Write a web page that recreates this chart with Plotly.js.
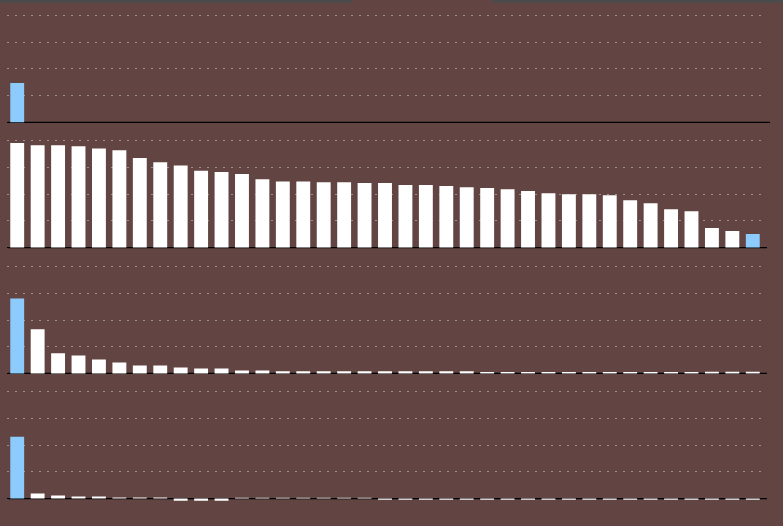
<!DOCTYPE html>
<html>
<head>
<meta charset="utf-8">
<script src="https://cdn.plot.ly/plotly-3.0.1.min.js"></script>
<style>html,body{margin:0;padding:0;background:#624442;}#chart{width:783px;height:526px;}</style>
</head>
<body>
<div id="chart"></div>
<script>
const categories = ["1","2","3","4","5","6","7","8","9","10","11","12","13","14","15","16","17","18","19","20","21","22","23","24","25","26","27","28","29","30","31","32","33","34","35","36","37"];
const panel1 = [36.8,0,0,0,0,0,0,0,0,0,0,0,0,0,0,0,0,0,0,0,0,0,0,0,0,0,0,0,0,0,0,0,0,0,0,0,0];
const panel2 = [98,96,96,95,93,91.4,84,80,77,72,71,69,64,62,62,61.4,61.4,60.5,60.5,58.6,58.6,57.7,56.7,55.8,54.8,53,51,50,50,49.2,44.5,41.7,36,34.2,18.3,15.5,12.7];
const panel3 = [70.3,41.3,18.8,16.9,13.1,10.3,7.5,7.5,5.6,4.7,4.7,2.8,2.8,1.9,1.9,1.9,1.9,1.9,1.9,1.9,1.9,1.9,1.9,1.3,1.3,1.3,1.3,1.3,1.3,1.3,1.3,1.3,1.3,1.3,1.6,1.6,1.6];
const panel4 = [58.1,4.7,2.8,1.9,1.9,1.0,1.0,1.0,-1.9,-1.9,-1.9,0.9,0.9,0.9,0.9,0.9,0.9,0.9,-1.0,-1.0,-1.0,-1.0,-1.0,-1.0,-1.0,-1.0,-1.0,-1.0,-1.0,-1.0,-1.0,-1.0,-1.0,-1.0,-1.0,-1.0,-1.0];
const highlightIndex = [0, categories.length - 1, 0, 0];

const BLUE = '#8ccbfb', WHITE = '#ffffff';
function colors(hi){ return categories.map((c,i)=> i===hi ? BLUE : WHITE); }

const series = [panel1, panel2, panel3, panel4];
const traces = series.map((vals, k) => ({
  type: 'bar', x: categories, y: vals,
  xaxis: 'x', yaxis: k === 0 ? 'y' : 'y' + (k+1),
  marker: {color: colors(highlightIndex[k]), line: {width: 0}},
  hoverinfo: 'none', showlegend: false
}));

const H = 526;
function dom(zeroPx){ return [1 - (zeroPx + 3.2)/H, 1 - (zeroPx - 117.3)/H]; }
const zeros = [122.3, 247.6, 373.4, 498.6];
function yax(k){
  return {domain: dom(zeros[k]), range: [-3, 110], tick0: 0, dtick: 25,
    showticklabels: false, ticks: '', showline: false,
    showgrid: true, gridcolor: '#9a928a', gridwidth: 1, griddash: '2px,6px',
    zeroline: true, zerolinecolor: '#000000', zerolinewidth: 1.3,
    anchor: 'x', fixedrange: true};
}
const PL = 7, PR = 763, PW = PR - PL;
function px(p){ return (p - PL)/PW; }
const zeroEnds = [770, 767, 767, 767];
const shapes = [
  {type: 'rect', xref: 'paper', yref: 'paper', x0: px(0), x1: px(352), y0: 1 - 3/H, y1: 1, fillcolor: '#4b4b4b', line: {width: 0}, layer: 'above'},
  {type: 'rect', xref: 'paper', yref: 'paper', x0: px(493), x1: px(783), y0: 1 - 3/H, y1: 1, fillcolor: '#4b4b4b', line: {width: 0}, layer: 'above'}
];
zeros.forEach((z, k) => shapes.push({type: 'line', xref: 'paper', yref: k === 0 ? 'y' : 'y' + (k+1),
  x0: px(8), x1: px(zeroEnds[k]), y0: 0, y1: 0, line: {color: '#000000', width: 1.3}, layer: 'below'}));

const layout = {
  width: 783, height: 526,
  margin: {l: PL, r: 783 - PR, t: 0, b: 0, pad: 0},
  paper_bgcolor: '#624442', plot_bgcolor: '#624442',
  bargap: 0.32,
  xaxis: {showticklabels: false, ticks: '', showgrid: false, zeroline: false, showline: false, anchor: 'y4', fixedrange: true},
  yaxis: yax(0), yaxis2: yax(1), yaxis3: yax(2), yaxis4: yax(3),
  shapes: shapes
};
Plotly.newPlot('chart', traces, layout, {displayModeBar: false, staticPlot: true});
</script>
</body>
</html>
